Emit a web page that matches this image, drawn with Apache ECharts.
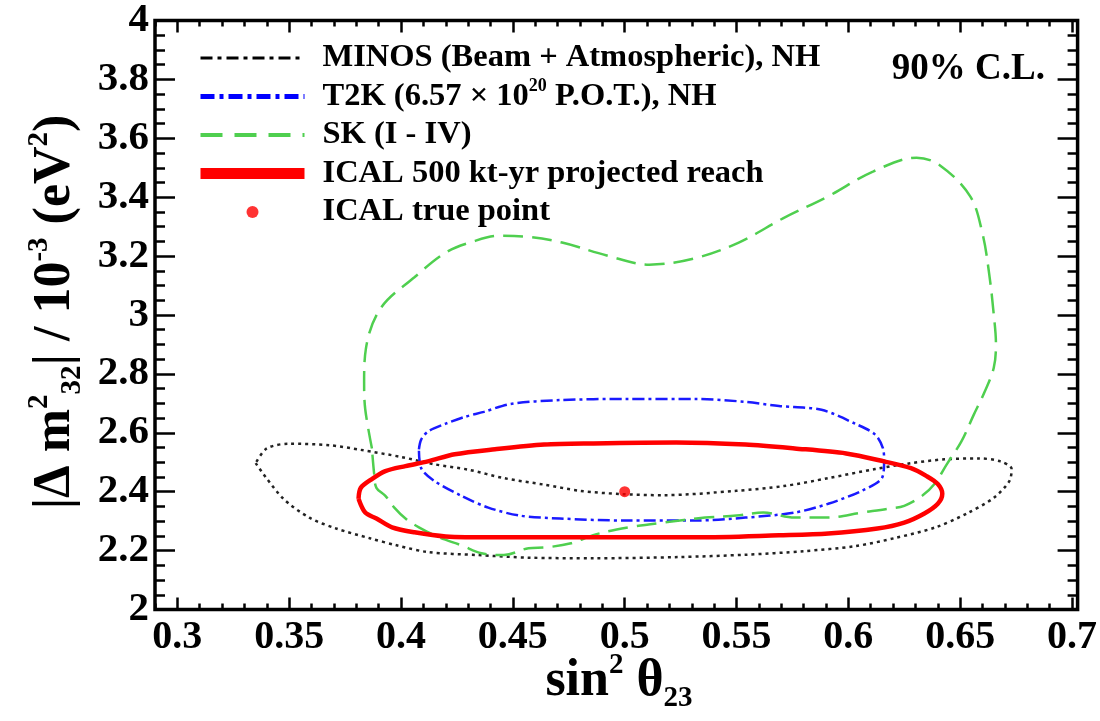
<!DOCTYPE html>
<html><head><meta charset="utf-8">
<script src="https://cdn.jsdelivr.net/npm/echarts@6/dist/echarts.min.js"></script>
<style>html,body{margin:0;padding:0;background:#fff}#c{width:1100px;height:721px}</style>
</head><body><div id="c"></div>
<script>
// ---- data ----
const xTickValues = [0.3, 0.35, 0.4, 0.45, 0.5, 0.55, 0.6, 0.65, 0.7];
const yTickValues = [2, 2.2, 2.4, 2.6, 2.8, 3, 3.2, 3.4, 3.6, 3.8, 4];

const seriesNames = [
  'MINOS (Beam + Atmospheric), NH',
  'T2K (6.57 × 10^20 P.O.T.), NH',
  'SK (I - IV)',
  'ICAL 500 kt-yr projected reach',
  'ICAL true point'
];

const minosContour = [[0.335,2.497],[0.347,2.379],[0.359,2.312],[0.371,2.275],[0.386,2.242],[0.398,2.218],[0.412,2.195],[0.434,2.185],[0.457,2.176],[0.486,2.174],[0.524,2.178],[0.554,2.186],[0.580,2.198],[0.603,2.215],[0.621,2.243],[0.639,2.279],[0.653,2.326],[0.665,2.379],[0.672,2.436],[0.673,2.477],[0.668,2.503],[0.658,2.513],[0.643,2.510],[0.628,2.497],[0.612,2.477],[0.591,2.446],[0.571,2.419],[0.550,2.403],[0.517,2.388],[0.498,2.392],[0.480,2.403],[0.464,2.424],[0.446,2.446],[0.430,2.475],[0.415,2.493],[0.400,2.518],[0.382,2.542],[0.368,2.558],[0.350,2.563],[0.340,2.547],[0.335,2.497]];

const t2kContour = [[0.408,2.544],[0.409,2.577],[0.412,2.604],[0.420,2.631],[0.4285,2.654],[0.437,2.671],[0.449,2.698],[0.471,2.711],[0.501,2.715],[0.532,2.715],[0.554,2.705],[0.569,2.691],[0.588,2.678],[0.603,2.631],[0.612,2.594],[0.6155,2.547],[0.616,2.503],[0.615,2.446],[0.606,2.403],[0.591,2.359],[0.576,2.329],[0.554,2.312],[0.532,2.302],[0.501,2.302],[0.471,2.309],[0.453,2.319],[0.439,2.346],[0.427,2.386],[0.415,2.436],[0.409,2.480],[0.408,2.544]];

const skContour = [[0.387,2.547],[0.384,2.68],[0.3835,2.771],[0.3843,2.886],[0.391,3.024],[0.406,3.128],[0.420,3.212],[0.432,3.249],[0.444,3.269],[0.456,3.266],[0.472,3.246],[0.492,3.202],[0.511,3.171],[0.531,3.192],[0.551,3.246],[0.571,3.329],[0.591,3.403],[0.611,3.487],[0.6305,3.534],[0.641,3.508],[0.6545,3.403],[0.660,3.276],[0.663,3.138],[0.665,3.003],[0.666,2.90],[0.665,2.82],[0.661,2.74],[0.656,2.66],[0.6505,2.570],[0.644,2.493],[0.6385,2.426],[0.633,2.386],[0.625,2.352],[0.618,2.342],[0.606,2.329],[0.591,2.312],[0.576,2.312],[0.562,2.329],[0.550,2.319],[0.536,2.312],[0.517,2.295],[0.502,2.279],[0.487,2.255],[0.476,2.225],[0.465,2.211],[0.457,2.208],[0.446,2.185],[0.436,2.191],[0.427,2.218],[0.417,2.245],[0.408,2.279],[0.402,2.309],[0.397,2.346],[0.393,2.386],[0.389,2.413],[0.388,2.460],[0.387,2.547]];

const icalContour = [[0.381,2.376],[0.382,2.413],[0.387,2.443],[0.393,2.470],[0.402,2.487],[0.412,2.503],[0.424,2.527],[0.442,2.544],[0.464,2.560],[0.486,2.564],[0.523,2.567],[0.554,2.560],[0.576,2.547],[0.599,2.530],[0.616,2.503],[0.628,2.480],[0.635,2.453],[0.640,2.426],[0.642,2.393],[0.640,2.359],[0.634,2.326],[0.625,2.295],[0.613,2.275],[0.591,2.258],[0.569,2.252],[0.532,2.245],[0.488,2.245],[0.442,2.245],[0.420,2.248],[0.406,2.262],[0.396,2.279],[0.389,2.309],[0.384,2.329],[0.381,2.376]];

const icalTruePoint = [[0.5, 2.4]];

// ---- chart ----
const F = '"Liberation Serif", "DejaVu Serif", serif';
const X_MIN = 0.29, X_MAX = 0.7025, Y_MIN = 2, Y_MAX = 4;
const chart = echarts.init(document.getElementById('c'), null, {renderer: 'canvas'});

function xAxisDef(pos, major) {
  const a = {
    type: 'value', min: X_MIN, max: X_MAX, position: pos, gridIndex: 0,
    axisLine: {show: false},
    splitLine: {show: false},
    axisLabel: {show: false},
    axisTick: {show: true, inside: true, length: major ? 12 : 6, lineStyle: {color: '#000', width: 2.5}}
  };
  if (major) {
    a.axisTick.customValues = xTickValues;
    if (pos === 'bottom') {
      a.axisLabel = {show: true, customValues: xTickValues, fontFamily: F, fontWeight: 'bold',
        fontSize: 40, color: '#000', margin: 8};
    }
  } else {
    a.interval = 0.01;
  }
  return a;
}
function yAxisDef(pos, labels) {
  return {
    type: 'value', min: Y_MIN, max: Y_MAX, interval: 0.2, position: pos, gridIndex: 0,
    axisLine: {show: false},
    splitLine: {show: false},
    axisTick: {show: true, inside: true, length: 20, lineStyle: {color: '#000', width: 2.5}},
    minorTick: {show: true, splitNumber: 4, length: 10, lineStyle: {color: '#000', width: 2.5}},
    axisLabel: labels ? {show: true, fontFamily: F, fontWeight: 'bold', fontSize: 41, color: '#000', margin: 6} : {show: false}
  };
}

const legendFormatter = name => {
  if (name.indexOf('T2K') === 0) return '{n|T2K (6.57 × 10}{sup|20}{n| P.O.T.), NH}';
  return '{n|' + name + '}';
};
const hiddenDot = {opacity: 0, color: 'transparent', borderWidth: 0};

const option = {
  animation: false,
  backgroundColor: '#fff',
  grid: {left: 155, right: 18, top: 14.5, bottom: 111.5, show: true, borderColor: '#000', borderWidth: 3.5, backgroundColor: 'transparent'},
  xAxis: [xAxisDef('bottom', true), xAxisDef('bottom', false), xAxisDef('top', true), xAxisDef('top', false)],
  yAxis: [yAxisDef('left', true), yAxisDef('right', false)],
  legend: {
    orient: 'vertical', left: 190, top: 34, itemWidth: 104, itemHeight: 12, itemGap: 0.5,
    selectedMode: false,
    formatter: legendFormatter,
    textStyle: {
      fontFamily: F, fontWeight: 'bold', fontSize: 32.5, color: '#000', lineHeight: 38, padding: [0, 0, 0, 13],
      rich: {
        n: {fontFamily: F, fontWeight: 'bold', fontSize: 32.5, color: '#000', lineHeight: 38},
        sup: {fontFamily: F, fontWeight: 'bold', fontSize: 18, color: '#000', lineHeight: 22, verticalAlign: 'top'}
      }
    },
    data: [
      {name: seriesNames[0], itemStyle: hiddenDot, lineStyle: {color: '#000', width: 3, type: [12, 5, 4, 5]}},
      {name: seriesNames[1], itemStyle: hiddenDot, lineStyle: {color: '#0000ff', width: 5, type: [14, 5, 4, 5]}},
      {name: seriesNames[2], itemStyle: hiddenDot, lineStyle: {color: '#4fcf4f', width: 4, type: [22, 12]}},
      {name: seriesNames[3], itemStyle: hiddenDot, lineStyle: {color: '#ff0000', width: 11}},
      {name: seriesNames[4], icon: 'circle', itemStyle: {color: '#ff0000'}}
    ]
  },
  graphic: [
    {type: 'text', x: 1045, y: 69, style: {text: '90% C.L.', font: 'bold 37px ' + F, fill: '#000', align: 'right', verticalAlign: 'middle'}},
    {type: 'text', x: 56, y: 312, rotation: Math.PI / 2, style: {
      text: '{m||Δ m}{sup|2}{sub|32}{m|| / 10}{sup|-3}{m| (eV}{sup|2}{m|)}',
      align: 'center', verticalAlign: 'middle', fill: '#000',
      rich: {
        m: {fontFamily: F, fontWeight: 'bold', fontSize: 52, lineHeight: 62, fill: '#000'},
        sup: {fontFamily: F, fontWeight: 'bold', fontSize: 29, lineHeight: 31, verticalAlign: 'top', fill: '#000'},
        sub: {fontFamily: F, fontWeight: 'bold', fontSize: 29, lineHeight: 31, verticalAlign: 'bottom', fill: '#000'}
      }
    }},
    {type: 'text', x: 619, y: 682, style: {
      text: '{m|sin}{sup|2}{m| θ}{sub|23}',
      align: 'center', verticalAlign: 'middle', fill: '#000',
      rich: {
        m: {fontFamily: F, fontWeight: 'bold', fontSize: 52, lineHeight: 62, fill: '#000'},
        sup: {fontFamily: F, fontWeight: 'bold', fontSize: 29, lineHeight: 31, verticalAlign: 'top', fill: '#000'},
        sub: {fontFamily: F, fontWeight: 'bold', fontSize: 29, lineHeight: 31, verticalAlign: 'bottom', fill: '#000'}
      }
    }}
  ],
  series: [
    {name: seriesNames[0], type: 'line', data: minosContour, symbol: 'none', smooth: 0.3, xAxisIndex: 0, yAxisIndex: 0,
      itemStyle: {color: '#222'}, lineStyle: {color: '#222', width: 2.5, type: [3, 4]}, z: 2},
    {name: seriesNames[1], type: 'line', data: t2kContour, symbol: 'none', smooth: 0.3, xAxisIndex: 0, yAxisIndex: 0,
      itemStyle: {color: '#1a1aff'}, lineStyle: {color: '#1a1aff', width: 2.5, type: [12, 4, 3, 4]}, z: 3},
    {name: seriesNames[2], type: 'line', data: skContour, symbol: 'none', smooth: 0.35, xAxisIndex: 0, yAxisIndex: 0,
      itemStyle: {color: '#4fcf4f'}, lineStyle: {color: '#4fcf4f', width: 2.5, type: [20, 9]}, z: 4},
    {name: seriesNames[3], type: 'line', data: icalContour, symbol: 'none', smooth: 0.3, xAxisIndex: 0, yAxisIndex: 0,
      itemStyle: {color: '#ff0000'}, lineStyle: {color: '#ff0000', width: 4.5}, z: 5},
    {name: seriesNames[4], type: 'scatter', data: icalTruePoint, symbol: 'circle', symbolSize: 11, xAxisIndex: 0, yAxisIndex: 0,
      itemStyle: {color: '#ff0000'}, z: 6}
  ]
};
chart.setOption(option);
</script>
</body></html>
